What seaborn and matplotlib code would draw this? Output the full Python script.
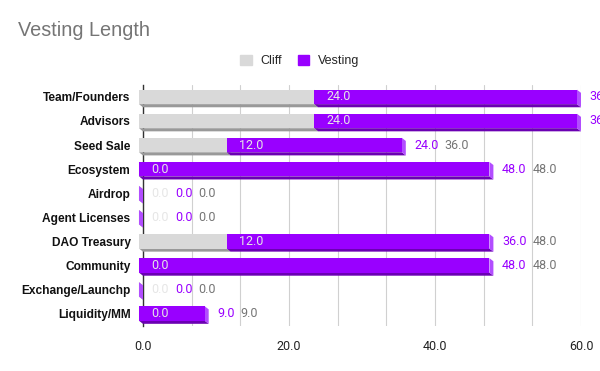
# grafica de barras apiladas horizontales con seaborn

# importar librerias

import numpy as np
import pandas as pd
import seaborn as sns
import matplotlib.pyplot as plt
from matplotlib.patches import Polygon, Patch

# datos

categorias = ["Team/Founders", "Advisors", "Seed Sale", "Ecosystem", "Airdrop",
              "Agent Licenses", "DAO Treasury", "Community", "Exchange/Launchp",
              "Liquidity/MM"]
cliff = [24, 24, 12, 0, 0, 0, 12, 0, 0, 0]
vesting = [36, 36, 24, 48, 0, 0, 36, 48, 0, 9]
ticks_x = [0, 20, 40, 60]

total = [c + v for c, v in zip(cliff, vesting)]
df = pd.DataFrame({"categoria": categorias, "cliff": cliff, "total": total})

# colores (frente, base, lado)
gris = ("#d9d9d9", "#999999", "#bdbdbd")
morado = ("#9900ff", "#6b00b3", "#b24dff")

sns.set_style("white")
plt.rcParams["font.family"] = ["Liberation Sans", "DejaVu Sans"]

fig = plt.figure(figsize=(6, 3.71), dpi=100)
ax = fig.add_axes([143 / 600, (371 - 325.5) / 371, 438 / 600, 240.6 / 371])

alto = 0.6
dx, dy = 0.55, 0.13

# barras frontales
sns.barplot(data=df, x="total", y="categoria", color=morado[0], width=alto,
            saturation=1, orient="h", linewidth=0, ax=ax)
sns.barplot(data=df, x="cliff", y="categoria", color=gris[0], width=alto,
            saturation=1, orient="h", linewidth=0, ax=ax)
for p in ax.patches:
    p.set_x(p.get_x() - dx)
    p.set_zorder(3)
    p.set_clip_on(False)

# efecto 3d: base y lado de cada segmento
for i in range(len(categorias)):
    arriba, abajo = i - alto / 2, i + alto / 2
    for s, e, col in [(0, cliff[i], gris), (cliff[i], total[i], morado)]:
        base = [(s - dx, abajo), (e - dx, abajo), (e, abajo + dy), (s, abajo + dy)]
        lado = [(e - dx, arriba), (e, arriba + dy), (e, abajo + dy), (e - dx, abajo)]
        ax.add_patch(Polygon(base, closed=True, color=col[1], lw=0, zorder=2.6, clip_on=False))
        ax.add_patch(Polygon(lado, closed=True, color=col[2], lw=0, zorder=2.6, clip_on=False))

ax.set_xlim(0, 60)
ax.set_ylim(len(categorias) - 0.5, -0.5)

# ejes y rejilla
ax.set_xticks(ticks_x)
ax.set_xticklabels([f"{v:.1f}" for v in ticks_x], family="Roboto", fontsize=9, color="#222222")
ax.set_xticks(np.arange(0, 61, 20 / 3), minor=True)
ax.grid(axis="x", which="both", color="#d0d0d0", lw=0.8)
ax.set_axisbelow(True)
ax.tick_params(axis="x", which="both", length=0, pad=10.5)
ax.tick_params(axis="y", length=0, pad=9)
for lab in ax.get_yticklabels():
    lab.set_fontweight("bold")
    lab.set_fontsize(8.6)
    lab.set_color("#111111")
ax.set_xlabel("")
ax.set_ylabel("")
for s in ["top", "right", "bottom"]:
    ax.spines[s].set_visible(False)
ax.spines["left"].set_color("#333333")
ax.spines["left"].set_linewidth(1)
ax.spines["left"].set_zorder(1)

# titulo y leyenda
fig.text(18 / 600, 1 - 31 / 371, "Vesting Length", fontsize=14.3, color="#757575", va="center")
fig.legend(handles=[Patch(color=gris[0], label="Cliff"), Patch(color=morado[0], label="Vesting")],
           loc="center", bbox_to_anchor=(0.5, 1 - 61 / 371), ncol=2, frameon=False,
           handlelength=0.9, handleheight=0.9, columnspacing=1.3, handletextpad=0.7,
           prop={"size": 9})

# etiquetas de datos
fig.canvas.draw()
r = fig.canvas.get_renderer()
estilo = dict(textcoords="offset pixels", ha="left", va="center", fontsize=9,
              family="Roboto", annotation_clip=False, zorder=5)
for i in range(len(categorias)):
    t1 = ax.annotate(f"{cliff[i]:.1f}", xy=(cliff[i], i), xytext=(8.5, 0), color="#e6e6e6", **estilo)
    fin1 = t1.get_window_extent(r).x1
    xt = ax.transData.transform((total[i], i))[0]
    ini2 = max(xt + 8.5, fin1 + 6)
    t2 = ax.annotate(f"{vesting[i]:.1f}", xy=(total[i], i), xytext=(ini2 - xt, 0), color=morado[0], **estilo)
    fin2 = t2.get_window_extent(r).x1
    ax.annotate(f"{total[i]:.1f}", xy=(total[i], i), xytext=(fin2 + 6 - xt, 0), color="#757575", **estilo)

fig.savefig("out.png", dpi=100)
